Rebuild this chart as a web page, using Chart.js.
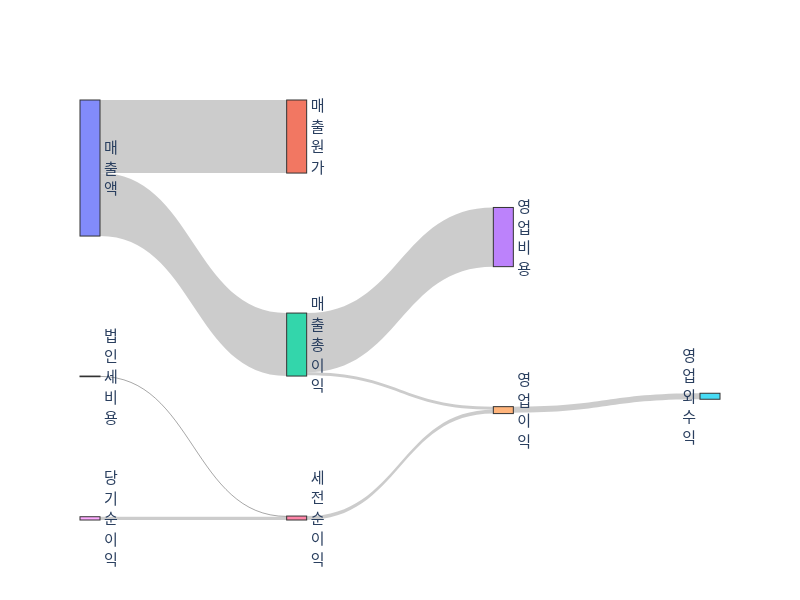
<!DOCTYPE html>
<html lang="ko">
<head>
<meta charset="UTF-8">
<title>손익 흐름</title>
<script src="https://cdn.jsdelivr.net/npm/chart.js"></script>
<style>
  body { margin: 0; background: #fff; }
  #wrap { width: 800px; height: 600px; }
</style>
</head>
<body>
<div id="wrap"><canvas id="chart" width="800" height="600"></canvas></div>
<script>
// nodes, in the order of the source figure (colours follow this order)
const nodeNames = ['매출액', '매출원가', '매출총이익', '영업비용', '영업이익', '영업외수익', '세전순이익', '법인세비용', '당기순이익'];

// flows: source -> target, value
const linkSources = ['매출액', '매출액', '매출총이익', '매출총이익', '영업이익', '세전순이익', '법인세비용', '당기순이익'];
const linkTargets = ['매출원가', '매출총이익', '영업비용', '영업이익', '영업외수익', '영업이익', '세전순이익', '세전순이익'];
const linkValues = [537, 463, 435, 22, 44, 29, 5, 24];

const nodeColors = ['#636efa', '#EF553B', '#00cc96', '#ab63fa', '#FFA15A', '#19d3f3', '#FF6692', '#B6E880', '#FF97FF'];

const NODE_W = 20;
const NODE_PAD = 1;      // asked padding (fraction of height), capped below
const ITERATIONS = 50;

function hexA(hex, a) {
  const v = parseInt(hex.slice(1), 16);
  return `rgba(${(v >> 16) & 255},${(v >> 8) & 255},${v & 255},${a})`;
}

// sankey layout in value space: y runs 0..1 over the plot height
function buildSankey() {
  const nodes = nodeNames.map((name, i) => ({ name, index: i, sourceLinks: [], targetLinks: [] }));
  const byName = {};
  nodes.forEach(n => byName[n.name] = n);
  const links = linkValues.map((value, i) => {
    const l = { index: i, value, source: byName[linkSources[i]], target: byName[linkTargets[i]] };
    l.source.sourceLinks.push(l);
    l.target.targetLinks.push(l);
    return l;
  });
  const sum = arr => arr.reduce((s, l) => s + l.value, 0);
  nodes.forEach(n => n.value = Math.max(sum(n.sourceLinks), sum(n.targetLinks)));

  // columns by depth (left aligned)
  let current = new Set(nodes), x = 0;
  while (current.size) {
    const next = new Set();
    for (const n of current) {
      n.layer = x;
      for (const l of n.sourceLinks) next.add(l.target);
    }
    x++;
    current = next;
  }
  const nCols = x;
  const columns = Array.from({ length: nCols }, () => []);
  nodes.forEach(n => columns[n.layer].push(n));

  const maxLen = Math.max(...columns.map(c => c.length));
  const py = Math.min(NODE_PAD, (2 / 3) / (maxLen - 1));
  const ky = Math.min(...columns.map(c => (1 - (c.length - 1) * py) / c.reduce((s, n) => s + n.value, 0)));

  columns.forEach(c => c.forEach((n, i) => { n.y0 = i; n.y1 = i + n.value * ky; }));
  links.forEach(l => l.width = l.value * ky);
  const center = n => (n.y0 + n.y1) / 2;

  function resolveCollisions() {
    for (const c of columns) {
      c.sort((a, b) => a.y0 - b.y0);
      let y = 0, n, dy, i;
      for (i = 0; i < c.length; ++i) {
        n = c[i];
        dy = y - n.y0;
        if (dy > 0) { n.y0 += dy; n.y1 += dy; }
        y = n.y1 + py;
      }
      dy = y - py - 1;
      if (dy > 0) {
        y = (n.y0 -= dy); n.y1 -= dy;
        for (i = c.length - 2; i >= 0; --i) {
          n = c[i];
          dy = n.y1 + py - y;
          if (dy > 0) { n.y0 -= dy; n.y1 -= dy; }
          y = n.y0;
        }
      }
    }
  }
  function relaxRightToLeft(alpha) {
    columns.slice().reverse().forEach(c => c.forEach(n => {
      if (!n.sourceLinks.length) return;
      const target = n.sourceLinks.reduce((s, l) => s + center(l.target) * l.value, 0) / sum(n.sourceLinks);
      const dy = (target - center(n)) * alpha;
      n.y0 += dy; n.y1 += dy;
    }));
  }
  function relaxLeftToRight(alpha) {
    columns.forEach(c => c.forEach(n => {
      if (!n.targetLinks.length) return;
      const target = n.targetLinks.reduce((s, l) => s + center(l.source) * l.value, 0) / sum(n.targetLinks);
      const dy = (target - center(n)) * alpha;
      n.y0 += dy; n.y1 += dy;
    }));
  }

  resolveCollisions();
  for (let alpha = 1, k = ITERATIONS; k > 0; --k) {
    alpha *= 0.99;
    relaxRightToLeft(alpha);
    resolveCollisions();
    relaxLeftToRight(alpha);
    resolveCollisions();
  }

  for (const n of nodes) {
    n.sourceLinks.sort((a, b) => a.target.y0 - b.target.y0);
    n.targetLinks.sort((a, b) => a.source.y0 - b.source.y0);
  }
  for (const n of nodes) {
    let a = n.y0, b = n.y0;
    for (const l of n.sourceLinks) { l.y0 = a + l.width / 2; a += l.width; }
    for (const l of n.targetLinks) { l.y1 = b + l.width / 2; b += l.width; }
  }
  return { nodes, links, nCols };
}

const graph = buildSankey();

const sankeyPlugin = {
  id: 'sankeyDraw',
  afterDatasetsDraw(chart) {
    const ctx = chart.ctx;
    const xs = chart.scales.x, ys = chart.scales.y;
    const px = v => xs.getPixelForValue(v);
    const pyx = v => ys.getPixelForValue(v);
    const hPx = v => Math.abs(pyx(v) - pyx(0));

    ctx.save();
    // links
    for (const l of graph.links) {
      const sx = px(l.source.layer) + NODE_W;
      const tx = px(l.target.layer);
      const xm = (sx + tx) / 2;
      const w = hPx(l.width);
      const sy = pyx(l.y0), ty = pyx(l.y1);
      if (w < 1) {
        ctx.beginPath();
        ctx.moveTo(sx, sy);
        ctx.bezierCurveTo(xm, sy, xm, ty, tx, ty);
        ctx.strokeStyle = 'rgba(0,0,0,0.35)';
        ctx.lineWidth = 1;
        ctx.stroke();
        continue;
      }
      ctx.beginPath();
      ctx.moveTo(sx, sy - w / 2);
      ctx.bezierCurveTo(xm, sy - w / 2, xm, ty - w / 2, tx, ty - w / 2);
      ctx.lineTo(tx, ty + w / 2);
      ctx.bezierCurveTo(xm, ty + w / 2, xm, sy + w / 2, sx, sy + w / 2);
      ctx.closePath();
      ctx.fillStyle = 'rgba(0,0,0,0.2)';
      ctx.fill();
    }
    // nodes
    for (const n of graph.nodes) {
      const x0 = px(n.layer);
      const y0 = pyx(n.y0), y1 = pyx(n.y1);
      ctx.fillStyle = hexA(nodeColors[n.index], 0.8);
      ctx.fillRect(x0, y0, NODE_W, y1 - y0);
      ctx.strokeStyle = '#333';
      ctx.lineWidth = 1;
      ctx.strokeRect(x0, y0, NODE_W, y1 - y0);
    }
    // labels, one syllable per line
    ctx.font = '15px "Noto Sans CJK KR", sans-serif';
    ctx.fillStyle = '#2a3f5f';
    ctx.textBaseline = 'middle';
    const lineH = 20.5;
    for (const n of graph.nodes) {
      const x0 = px(n.layer);
      const cy = (pyx(n.y0) + pyx(n.y1)) / 2;
      const last = n.layer === graph.nCols - 1;
      ctx.textAlign = last ? 'right' : 'left';
      const tx = last ? x0 - 4 : x0 + NODE_W + 4;
      const chars = Array.from(n.name);
      chars.forEach((c, i) => {
        ctx.fillText(c, tx, cy + (i - (chars.length - 1) / 2) * lineH);
      });
    }
    ctx.restore();
  }
};

new Chart(document.getElementById('chart'), {
  type: 'scatter',
  data: { datasets: [{ data: [] }] },
  options: {
    responsive: false,
    animation: false,
    layout: { padding: { left: 80, right: 100, top: 100, bottom: 80 } },
    scales: {
      x: { type: 'linear', min: 0, max: graph.nCols - 1, display: false },
      y: { type: 'linear', min: 0, max: 1, reverse: true, display: false }
    },
    plugins: { legend: { display: false }, tooltip: { enabled: false } }
  },
  plugins: [sankeyPlugin]
});
</script>
</body>
</html>
